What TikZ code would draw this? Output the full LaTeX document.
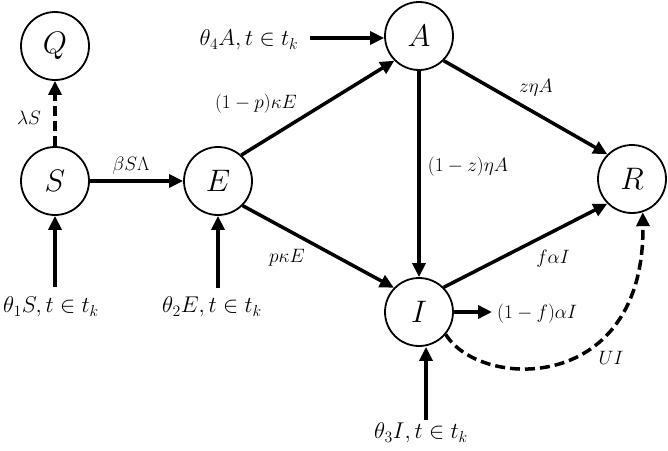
\documentclass[tikz,border=0pt]{standalone}
\usetikzlibrary{arrows.meta}
\newcommand{\bigletter}[1]{\scalebox{1.25}{$#1$}}
\begin{document}
\begin{tikzpicture}[x=1pt,y=-1pt,
  st/.style={circle,draw,line width=1.8pt,minimum size=68pt,inner sep=0pt,font=\fontsize{24.88}{28}\selectfont},
  flow/.style={line width=3.5pt,-{Triangle[length=14pt,width=13pt]}},
  dflow/.style={flow,dash pattern=on 10pt off 5pt},
  lab/.style={font=\fontsize{17.28}{20}\selectfont,inner sep=0pt,scale=1.12,transform shape},
  tlab/.style={font=\fontsize{20.74}{24}\selectfont,inner sep=0pt,scale=1.1,transform shape}]
\useasboundingbox (0,0) rectangle (668,450);
% compartments
\node[st] (Q) at (55,46) {\bigletter{Q}};
\node[st] (S) at (55,181) {\bigletter{S}};
\node[st] (E) at (218,181) {\bigletter{E}};
\node[st] (A) at (419,36) {\bigletter{A}};
\node[st] (I) at (419,312) {\bigletter{I}};
\node[st] (R) at (632,179) {\bigletter{R}};
% free ends
\coordinate (s0) at (55,287);
\coordinate (e0) at (218,288);
\coordinate (i0) at (426,420);
\coordinate (a0) at (310,38);
\coordinate (f0) at (492,312);
% labels
\node[tlab] (t1) at (51,307) {$\theta_1S, t\in t_k$};
\node[tlab] (t2) at (212,307) {$\theta_2E, t\in t_k$};
\node[tlab] (t3) at (421,433) {$\theta_3I, t\in t_k$};
\node[tlab] (t4) at (249,40) {$\theta_4A, t\in t_k$};
\node[lab] (l1) at (29,118) {$\lambda S$};
\node[lab] (l2) at (131,166) {$\beta S\Lambda$};
\node[lab] (l3) at (256,104) {$(1-p)\kappa E$};
\node[lab] (l4) at (287,258) {$p\kappa E$};
\node[lab] (l5) at (536,88) {$z\eta A$};
\node[lab] (l6) at (468,167) {$(1-z)\eta A$};
\node[lab] (l7) at (553,259) {$f\alpha I$};
\node[lab,anchor=west] (l8) at (497,314) {$(1-f)\alpha I$};
\node[lab] (l9) at (611,358) {$UI$};
% flows
\draw[dflow] (S) -- (Q);
\draw[flow] (S) -- (E);
\draw[flow] (s0) -- (S);
\draw[flow] (e0) -- (E);
\draw[flow] (i0) -- (i0 |- I.south);
\draw[flow] (a0) -- (a0 -| A.west);
\draw[flow] (E.48) -- (A.225);
\draw[flow] (E.-45) -- (I.136);
\draw[flow] (A) -- (I);
\draw[flow] (A.-45) -- (R.135);
\draw[flow] (I.45) -- (R.225);
\draw[flow] (I.east) -- (f0);
\draw[dflow] (I.-40) .. controls (480,390) and (645,395) .. (R.-72);
\end{tikzpicture}
\end{document}
